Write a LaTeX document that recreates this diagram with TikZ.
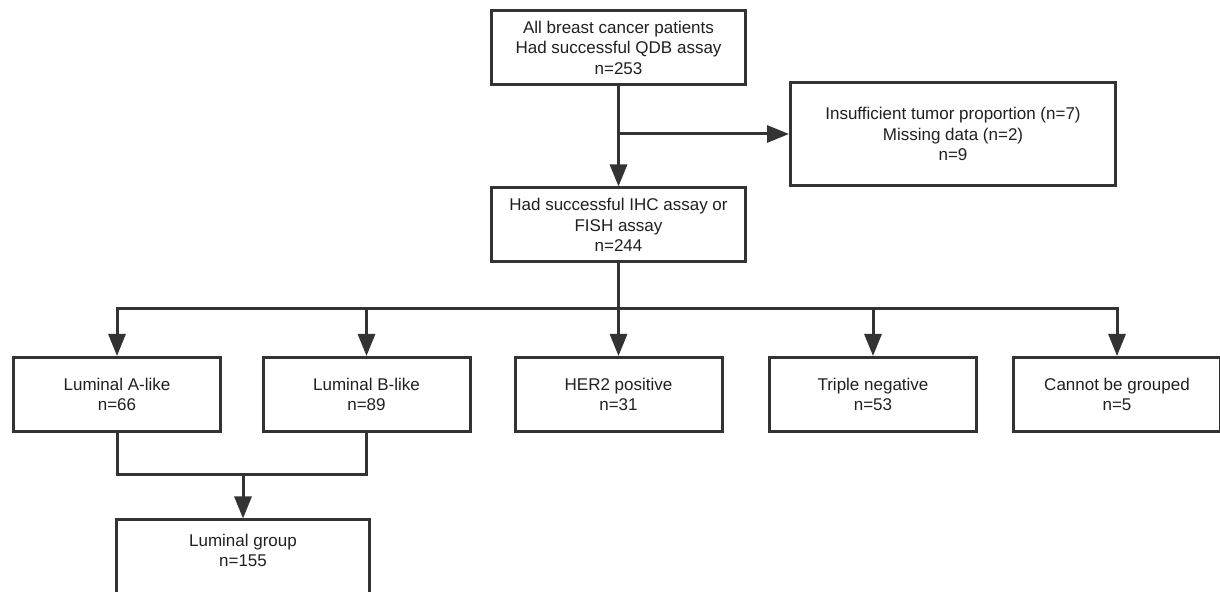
\documentclass[tikz,border=0pt]{standalone}
\usepackage{fontspec}
\setmainfont{Liberation Sans}
\usetikzlibrary{arrows.meta,positioning}
\definecolor{ink}{HTML}{333333}
\definecolor{txt}{HTML}{231F20}
\tikzset{
  box/.style={draw=ink,line width=1.5pt,fill=white,align=center,text=txt,
    font=\fontsize{8.5}{10.25}\selectfont,inner sep=0pt},
  wide/.style={box,minimum width=127pt,minimum height=37pt},
  grp/.style={box,minimum width=103.5pt,minimum height=37pt},
  flow/.style={ink,line width=1.5pt,-{Triangle[length=11pt,width=8.5pt]}},
  link/.style={ink,line width=1.5pt},
}
\begin{document}
\begin{tikzpicture}[x=0.5pt,y=-0.5pt]
  \path[clip] (0,0) rectangle (1220,592);
  % ---------- screening ----------
  \node[wide] (all) at (618.5,47.5) {All breast cancer patients\\Had successful QDB assay\\n=253};
  \node[box,minimum width=162.5pt,minimum height=51.5pt] (excl) at (953,134)
    {Insufficient tumor proportion (n=7)\\Missing data (n=2)\\n=9};
  \node[wide] (ihc) at (618.5,225) {Had successful IHC assay or\\FISH assay\\n=244};
  \coordinate (split) at (all.south |- excl.west);
  \draw[flow] (all) -- (ihc);
  \draw[flow] (split) -- (excl.west);
  % ---------- subtypes ----------
  \foreach \nm/\x/\t in {luma/117/{Luminal A-like\\n=66},lumb/366.5/{Luminal B-like\\n=89},
      her2/618.5/{HER2 positive\\n=31},trip/873/{Triple negative\\n=53},
      cang/1117/{Cannot be grouped\\n=5}}
    \node[grp] (\nm) at (\x,394.5) {\t};
  \coordinate (hub) at (618.5,309);
  \draw[link] (ihc) -- (hub);
  \foreach \nm in {luma,lumb,her2,trip,cang}
    \draw[flow] (hub) -| (\nm.north);
  % ---------- luminal group ----------
  \node[box,anchor=north,minimum width=126.5pt,text height=23.5pt,text depth=30pt] (lum)
    at (243,518.5) {Luminal group\\n=155};
  \coordinate (merge) at (lum.north |- 0,475);
  \draw[link] (luma.south) |- (merge) -| (lumb.south);
  \draw[flow] (merge) -- (lum.north);
\end{tikzpicture}
\end{document}
